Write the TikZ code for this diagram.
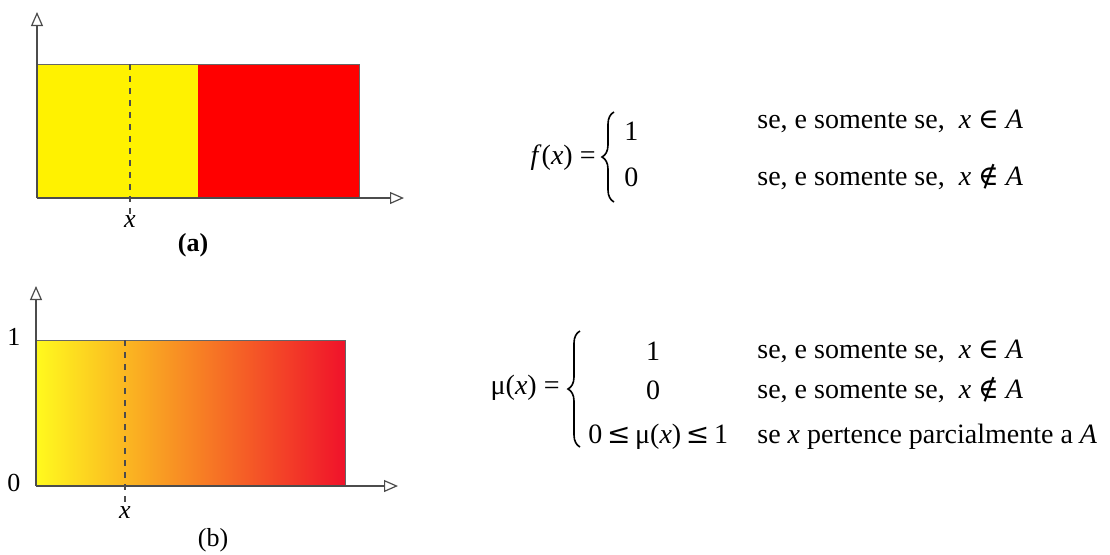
\documentclass[tikz,border=0pt]{standalone}
\usepackage{fontspec}
\setmainfont{Liberation Serif}
\newfontfamily\symf{DejaVu Serif}
\usetikzlibrary{arrows.meta,decorations.pathreplacing}
\definecolor{gy}{RGB}{255,250,30}
\definecolor{go}{RGB}{249,140,30}
\definecolor{gr}{RGB}{240,18,42}
\begin{document}
\begin{tikzpicture}[x=0.5pt,y=-0.5pt,
  axis/.style={draw=black!70, line width=0.6pt, -{Triangle[open,length=7pt,width=6pt]}},
  guide/.style={draw=black!70, dashed, line width=0.6pt},
  frame/.style={draw=black!60, line width=0.5pt},
  curly/.style={decorate, decoration={brace, amplitude=6pt}, line width=0.8pt},
  eq/.style={font=\fontsize{14}{16}\selectfont, inner sep=0pt},
  lbl/.style={font=\fontsize{13}{15}\selectfont, inner sep=0pt}]
\useasboundingbox (0,0) rectangle (1110,554);
% ---------- (a) ----------
\coordinate (oa) at (37,198);
\coordinate (ya) at (37,12);
\coordinate (xa) at (404,198);
\fill[yellow] (37,64) rectangle (198,198);
\fill[red] (198,64) rectangle (359,198);
\draw[frame] (37,64) rectangle (359,198);
\draw[axis] (oa) -- (ya);
\draw[axis] (oa) -- (xa);
\node[lbl] (xla) at (130,222) {\textit{x}};
\coordinate (ta) at (130,64);
\draw[guide] (ta) -- (xla.north);
\node[lbl] (capa) at (193,245) {\textbf{(a)}};
% ---------- (b) ----------
\coordinate (ob) at (36,486);
\coordinate (yb) at (36,286);
\coordinate (xb) at (398,486);
\shade[left color=gy, middle color=go, right color=gr] (36,340) rectangle (345,486);
\draw[frame] (36,340) rectangle (345,486);
\draw[axis] (ob) -- (yb);
\draw[axis] (ob) -- (xb);
\node[lbl] (one) at (14,337) {1};
\node[lbl] (zero) at (14,483) {0};
\node[lbl] (xlb) at (125,513) {\textit{x}};
\coordinate (tb) at (125,340);
\draw[guide] (tb) -- (xlb.north);
\node[lbl] (capb) at (213,540) {(b)};
% ---------- equation (a) ----------
\node[eq, anchor=east] (fx) at (596,158) {\textit{f}(\textit{x}) =};
\coordinate (bat) at (614,112);
\coordinate (bab) at (614,202);
\draw[curly] (bab) -- (bat);
\node[eq, anchor=west] (a1) at (624,131) {1};
\node[eq, anchor=west] (a0) at (624,177) {0};
\node[eq, anchor=west] (ta1) at (757,121) {se, e somente se, \ \textit{x} {\symf ∈} \textit{A}};
\node[eq, anchor=west] (ta0) at (757,177) {se, e somente se, \ \textit{x} {\symf ∉} \textit{A}};
% ---------- equation (b) ----------
\node[eq, anchor=east] (mux) at (560,388) {μ(\textit{x}) =};
\coordinate (bbt) at (580,331);
\coordinate (bbb) at (580,447);
\draw[curly] (bbb) -- (bbt);
\node[eq] (b1) at (653,351) {1};
\node[eq] (b0) at (653,390) {0};
\node[eq, anchor=west] (bp) at (588,437) {0\,{\symf ≤}\,μ(\textit{x})\,{\symf ≤}\,1};
\node[eq, anchor=west] (tb1) at (757,351) {se, e somente se, \ \textit{x} {\symf ∈} \textit{A}};
\node[eq, anchor=west] (tb0) at (757,390) {se, e somente se, \ \textit{x} {\symf ∉} \textit{A}};
\node[eq, anchor=west] (tbp) at (757,437) {se \textit{x} pertence parcialmente a \textit{A}};
\end{tikzpicture}
\end{document}
